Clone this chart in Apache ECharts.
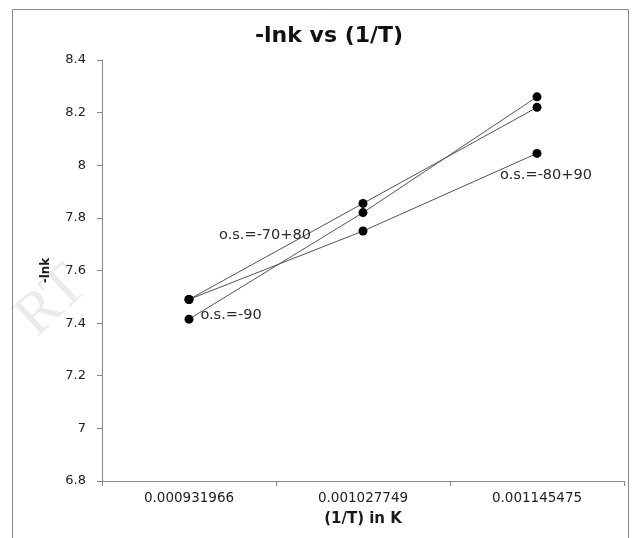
<!DOCTYPE html>
<html><head><meta charset="utf-8">
<script src="https://cdn.jsdelivr.net/npm/echarts@6/dist/echarts.min.js"></script>
<style>html,body{margin:0;padding:0;background:#fff}#c{width:644px;height:538px}</style>
</head><body><div id="c"></div>
<script>
const categories = ['0.000931966', '0.001027749', '0.001145475'];
const seriesA = [7.49, 7.855, 8.22];   // o.s.=-70+80
const seriesB = [7.415, 7.82, 8.26];   // o.s.=-90
const seriesC = [7.49, 7.75, 8.045];   // o.s.=-80+90
const labelA = 'o.s.=-70+80';
const labelB = 'o.s.=-90';
const labelC = 'o.s.=-80+90';
const yTicks = {min: 6.8, max: 8.4, interval: 0.2};

const font = 'DejaVu Sans, sans-serif';
function mk(name, vals, idx, text, offset) {
  return {
    name, type: 'line', data: vals.map((v, i) => i === idx ? {
      value: v,
      label: {show: true, position: 'inside', offset, formatter: text,
        color: '#2a2a2a', fontSize: 14.5, fontFamily: font}
    } : v),
    symbol: 'circle', symbolSize: 9,
    itemStyle: {color: '#000'},
    lineStyle: {color: '#555', width: 1},
    animation: false, z: 3
  };
}
const chart = echarts.init(document.getElementById('c'));
chart.setOption({
  backgroundColor: '#fff',
  title: {text: '-lnk vs (1/T)', left: 324, top: 20, textAlign: 'center',
    textStyle: {fontSize: 22, fontWeight: 'bold', color: '#111', fontFamily: font}},
  grid: {left: 102, right: 20, top: 60, bottom: 57},
  xAxis: {type: 'category', data: categories, boundaryGap: true,
    name: '(1/T) in K', nameLocation: 'middle', nameGap: 31,
    nameTextStyle: {fontSize: 15, fontWeight: 'bold', color: '#1a1a1a', fontFamily: font},
    axisLine: {lineStyle: {color: '#888'}},
    axisTick: {show: true, length: 5, lineStyle: {color: '#888'}},
    axisLabel: {fontSize: 13.5, color: '#222', margin: 10, fontFamily: font}},
  yAxis: {type: 'value', min: yTicks.min, max: yTicks.max, interval: yTicks.interval,
    name: '-lnk', nameLocation: 'middle', nameGap: 50,
    nameTextStyle: {fontSize: 12, fontWeight: 'bold', color: '#1a1a1a', fontFamily: font},
    axisLine: {show: true, lineStyle: {color: '#888'}},
    axisTick: {show: true, length: 5, lineStyle: {color: '#888'}},
    splitLine: {show: false},
    axisLabel: {fontSize: 13, color: '#222', margin: 16, fontFamily: font,
      formatter: v => String(Math.round(v * 10) / 10)}},
  graphic: [
    {type: 'rect', shape: {x: 12.5, y: 9.5, width: 616, height: 540},
      style: {fill: 'none', stroke: '#888', lineWidth: 1}, z: 0},
    {type: 'text', left: 5, top: 255, rotation: 0.75,
      style: {text: 'RT', fontSize: 60, fontFamily: 'Liberation Serif, serif', fill: 'rgba(0,0,0,0.08)'}, z: 0}
  ],
  series: [
    mk('A', seriesA, 1, labelA, [-98, 32]),
    mk('B', seriesB, 0, labelB, [42, -4]),
    mk('C', seriesC, 2, labelC, [9, 22])
  ]
});
</script></body></html>
